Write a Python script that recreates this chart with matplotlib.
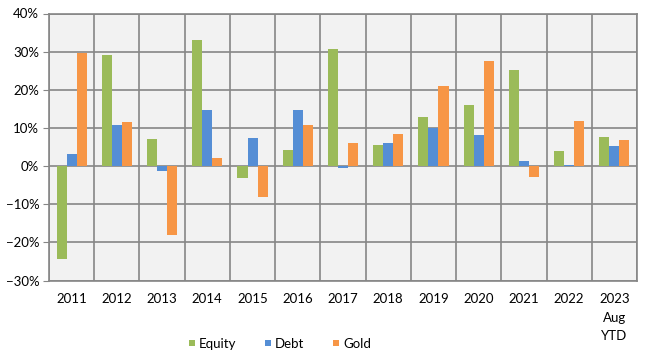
import numpy as np
import matplotlib.pyplot as plt
from matplotlib.ticker import PercentFormatter

years = ['2011', '2012', '2013', '2014', '2015', '2016', '2017', '2018',
         '2019', '2020', '2021', '2022', '2023\nAug\nYTD']
equity = [-24.3, 29.1, 7.1, 33.0, -3.1, 4.2, 30.7, 5.5, 12.9, 16.0, 25.2, 3.9, 7.6]
debt = [3.1, 10.8, -1.3, 14.7, 7.3, 14.7, -0.5, 6.0, 9.9, 8.1, 1.3, 0.4, 5.2]
gold = [29.6, 11.5, -18.1, 2.1, -8.1, 10.8, 6.0, 8.4, 21.0, 27.5, -2.9, 11.8, 6.8]

plt.rcParams['font.family'] = ['Lato', 'DejaVu Sans']

fig = plt.figure(figsize=(6.48, 3.62), dpi=100)
ax = fig.add_axes([49 / 648, 1 - 280.5 / 362, 588 / 648, 267 / 362])

x = np.arange(len(years))
w = 0.222
ax.bar(x - w, equity, w, color='#9BBB59', label='Equity', zorder=3)
ax.bar(x, debt, w, color='#558ED5', label='Debt', zorder=3)
ax.bar(x + w, gold, w, color='#F79646', label='Gold', zorder=3)

ax.set_facecolor('#F2F2F2')
ax.set_xlim(-0.5, len(years) - 0.5)
ax.set_ylim(-30, 40)
ax.set_yticks(range(-30, 41, 10))
ax.yaxis.set_major_formatter(PercentFormatter(decimals=0))
ax.set_xticks(x)
ax.set_xticklabels(years, fontsize=9.5, linespacing=1.65, va='top')
ax.set_xticks(np.arange(-0.5, len(years), 1), minor=True)
ax.grid(True, which='major', axis='y', color='#868686', lw=1.2, zorder=1)
ax.grid(True, which='minor', axis='x', color='#868686', lw=1.2, zorder=1)
ax.tick_params(axis='x', which='both', length=0, pad=9)
ax.tick_params(axis='y', length=4, color='#868686', labelsize=9.5, pad=3)
for s in ax.spines.values():
    s.set_color('#868686')
    s.set_linewidth(1.2)

fig.legend(*ax.get_legend_handles_labels(), loc='center',
           bbox_to_anchor=(280 / 648, 1 - 344 / 362), ncol=3,
           frameon=False, fontsize=9.5, handlelength=0.45, handleheight=0.3,
           columnspacing=2.2, handletextpad=0.3, borderpad=0)

fig.savefig('out.png', dpi=100)
